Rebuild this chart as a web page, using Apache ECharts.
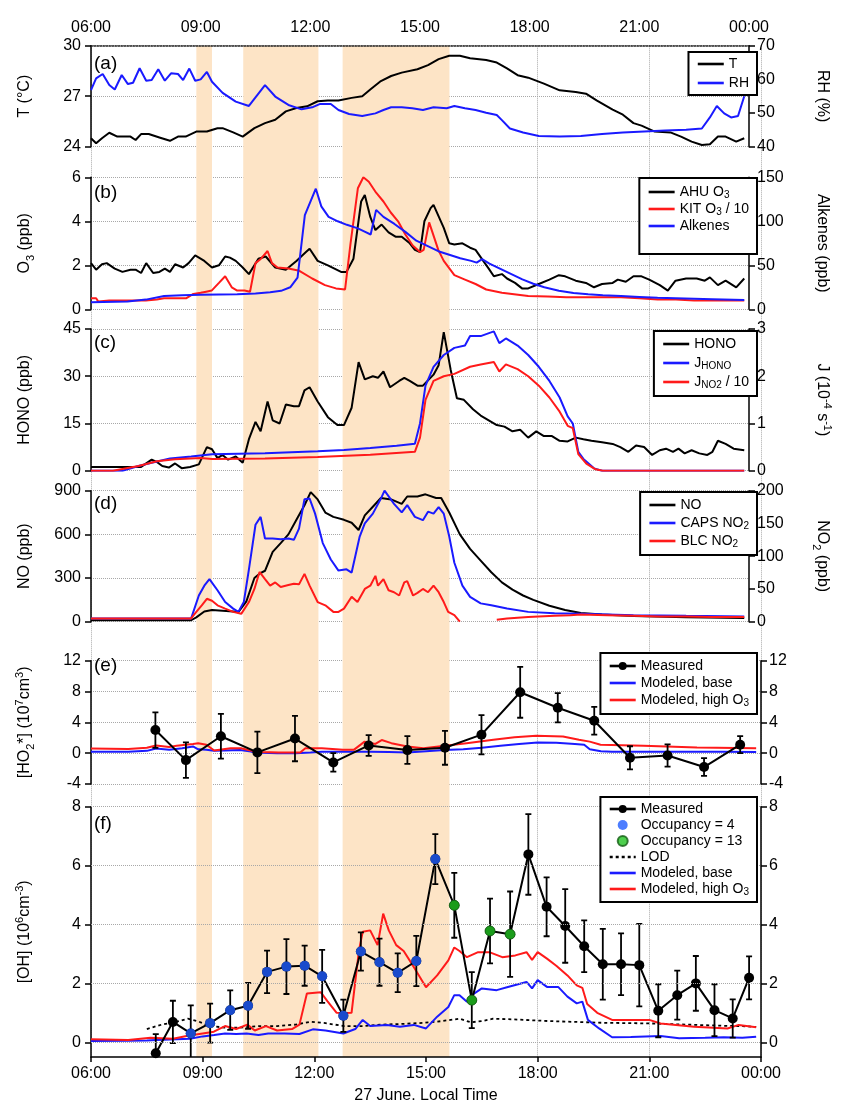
<!DOCTYPE html>
<html>
<head>
<meta charset="utf-8">
<script src="https://cdn.jsdelivr.net/npm/echarts@6/dist/echarts.min.js"></script>
<style>html,body{margin:0;background:#fff}#main{width:841px;height:1105px}</style>
</head>
<body>
<div id="main"></div>
<script>
// time in hours (6 = 06:00, 24 = 00:00 next day)
var shadeBands = [[8.83, 9.25], [10.09, 12.11], [12.76, 15.63]];

// (a)
var tempC = [[6.0,24.5],[6.14,24.2],[6.3,24.5],[6.5,24.83],[6.72,24.6],[6.9,24.6],[7.08,24.6],[7.22,24.4],[7.37,24.75],[7.58,24.75],[7.87,24.55],[8.16,24.35],[8.38,24.6],[8.59,24.6],[8.88,24.9],[9.17,24.9],[9.46,25.1],[9.6,25.1],[9.89,24.85],[10.15,24.6],[10.47,25.1],[10.76,25.4],[11.04,25.6],[11.33,26.1],[11.62,26.3],[11.91,26.4],[12.2,26.7],[12.48,26.75],[12.77,26.75],[13.13,26.9],[13.42,27.0],[13.64,27.4],[13.93,27.9],[14.21,28.2],[14.5,28.4],[14.93,28.6],[15.22,28.85],[15.51,29.2],[15.8,29.4],[16.09,29.4],[16.37,29.25],[16.81,29.15],[17.1,29.0],[17.38,28.65],[17.67,28.25],[17.96,28.1],[18.39,27.75],[18.82,27.35],[19.26,27.25],[19.54,27.15],[19.83,26.75],[20.27,26.2],[20.55,25.9],[20.84,25.4],[21.06,25.25],[21.42,24.9],[21.85,24.85],[22.14,24.6],[22.43,24.3],[22.71,24.1],[22.93,24.15],[23.15,24.6],[23.36,24.6],[23.65,24.3],[23.87,24.5]];
var rhPct = [[6.0,56.8],[6.14,60.3],[6.32,61.6],[6.5,58.3],[6.65,57.0],[6.84,61.3],[7.01,58.6],[7.15,59.0],[7.33,63.3],[7.51,59.6],[7.66,59.8],[7.84,63.0],[8.02,59.6],[8.19,61.8],[8.38,61.6],[8.52,59.8],[8.69,63.2],[8.85,59.6],[9.0,60.0],[9.17,62.2],[9.31,59.3],[9.6,56.0],[9.96,53.4],[10.32,52.1],[10.76,58.3],[11.04,54.9],[11.4,52.4],[11.76,51.1],[12.05,51.7],[12.27,52.7],[12.56,52.7],[12.77,50.9],[13.06,49.7],[13.42,49.1],[13.78,49.9],[14.0,50.9],[14.21,51.7],[14.5,51.7],[14.79,51.4],[15.08,50.9],[15.37,51.7],[15.73,51.4],[15.94,52.1],[16.23,51.4],[16.52,50.9],[16.81,50.1],[17.1,49.4],[17.24,47.9],[17.46,45.4],[17.82,44.2],[18.25,43.2],[18.82,43.0],[19.4,43.2],[19.98,43.8],[20.55,44.2],[21.13,44.5],[21.71,44.8],[22.28,45.0],[22.71,45.4],[22.93,48.7],[23.12,52.1],[23.32,49.9],[23.51,48.7],[23.7,49.1],[23.87,55.0]];

// (b)
var ahuO3 = [[6.0,2.1],[6.14,1.8],[6.3,2.05],[6.43,2.1],[6.65,1.85],[6.86,1.7],[7.08,1.8],[7.22,1.8],[7.37,1.65],[7.51,2.1],[7.7,1.65],[7.87,1.7],[8.02,1.85],[8.16,1.7],[8.3,2.05],[8.52,1.9],[8.67,2.1],[8.85,2.45],[9.1,2.2],[9.31,1.9],[9.5,2.0],[9.67,2.4],[9.8,2.35],[9.96,2.2],[10.15,1.9],[10.32,1.6],[10.58,2.3],[10.78,2.4],[11.04,1.9],[11.33,1.8],[11.62,2.2],[11.88,2.6],[11.98,2.75],[12.2,2.2],[12.48,2.0],[12.84,1.7],[12.99,1.7],[13.18,2.3],[13.39,4.9],[13.49,5.2],[13.64,4.2],[13.78,3.6],[13.95,3.85],[14.14,3.5],[14.33,3.3],[14.5,3.3],[14.72,3.0],[14.86,2.7],[15.0,2.6],[15.12,4.0],[15.29,4.6],[15.37,4.75],[15.65,3.7],[15.8,3.0],[15.94,2.95],[16.16,3.0],[16.37,2.8],[16.52,2.7],[16.73,2.2],[16.88,1.85],[17.02,1.5],[17.24,1.6],[17.38,1.4],[17.6,1.2],[17.79,0.95],[17.96,0.95],[18.25,1.15],[18.54,1.35],[18.8,1.55],[18.97,1.5],[19.26,1.3],[19.54,1.2],[19.76,1.0],[19.98,1.15],[20.27,1.2],[20.41,1.35],[20.63,1.25],[20.84,1.5],[21.06,1.5],[21.27,1.35],[21.56,1.1],[21.78,0.85],[21.99,1.3],[22.28,1.4],[22.57,1.4],[22.79,1.3],[22.93,1.45],[23.15,1.1],[23.36,1.3],[23.65,1.0],[23.87,1.4]];
var kitO3 = [[6.0,0.5],[6.14,0.5],[6.2,0.35],[6.5,0.4],[7.0,0.4],[7.5,0.4],[7.8,0.45],[8.0,0.5],[8.3,0.5],[8.6,0.5],[8.8,0.7],[9.0,0.75],[9.15,0.8],[9.3,0.85],[9.5,1.2],[9.67,1.5],[9.85,1.0],[10.0,0.85],[10.2,0.85],[10.35,0.8],[10.5,2.1],[10.65,2.3],[10.83,2.65],[10.95,2.1],[11.1,1.9],[11.4,1.85],[11.7,1.75],[12.05,1.4],[12.4,1.1],[12.7,0.95],[12.95,0.9],[13.1,3.0],[13.3,5.5],[13.45,6.0],[13.6,5.8],[13.8,5.3],[14.0,4.9],[14.2,4.4],[14.4,4.0],[14.6,3.4],[14.8,2.9],[15.0,2.6],[15.1,2.7],[15.25,3.95],[15.4,3.2],[15.5,2.7],[15.65,2.2],[15.94,1.55],[16.23,1.35],[16.52,1.15],[16.81,0.9],[17.24,0.75],[17.96,0.6],[18.5,0.58],[19.0,0.55],[19.5,0.55],[20.0,0.55],[20.5,0.55],[21.0,0.5],[21.5,0.45],[22.0,0.45],[22.5,0.4],[23.0,0.4],[23.5,0.4],[23.87,0.4]];
var alkenes = [[6.0,8],[7.0,9],[7.5,11],[8.0,15],[8.5,16],[9.0,16.5],[10.0,17],[10.5,18],[10.9,19.5],[11.2,21],[11.45,25],[11.65,36],[11.85,107],[12.15,137],[12.3,117],[12.5,105],[12.75,100],[13.0,96],[13.3,92],[13.5,88],[13.65,85],[13.8,113],[14.0,105],[14.3,97],[14.6,88],[14.9,78],[15.2,72],[15.5,66],[15.8,62],[16.1,58],[16.4,55],[16.55,53],[16.7,57],[16.9,52],[17.2,46],[17.5,40],[17.8,34],[18.1,29],[18.4,25],[18.8,21],[19.2,18.5],[19.6,17],[20.0,16],[20.5,15],[21.0,14],[21.5,13],[22.0,12.5],[22.5,12],[23.0,11.5],[23.87,10.5]];

// (c)
var hono = [[6.0,1.2],[7.37,1.2],[7.66,3.5],[7.8,2.8],[7.95,1.5],[8.13,1.0],[8.3,2.3],[8.48,0.8],[8.71,1.2],[8.95,2.0],[9.17,7.5],[9.31,6.8],[9.46,4.0],[9.6,5.0],[9.75,3.5],[9.96,4.5],[10.15,2.5],[10.32,10],[10.5,15.5],[10.64,12.5],[10.83,22],[10.97,16],[11.16,15],[11.33,21],[11.55,20.5],[11.69,20.5],[11.84,25.5],[11.98,26.5],[12.2,22],[12.48,17],[12.74,14.5],[12.92,14.5],[13.13,20],[13.32,34.5],[13.49,29],[13.71,30],[13.85,29.5],[14.0,31.5],[14.18,26.5],[14.43,28.5],[14.57,29.5],[14.72,28.5],[14.93,27],[15.08,27],[15.37,30.5],[15.51,33.5],[15.65,44],[15.84,32],[16.01,23],[16.2,22.5],[16.45,19.5],[16.66,17.5],[16.88,16],[17.1,14.5],[17.31,14],[17.53,12.5],[17.74,13],[17.96,10.5],[18.18,12.5],[18.39,11],[18.61,11],[18.82,9.5],[19.04,9.3],[19.26,10.5],[19.47,10],[19.69,9.5],[19.98,9],[20.27,8.5],[20.48,7.5],[20.7,6],[20.91,8],[21.13,7.5],[21.35,5],[21.56,6.5],[21.73,7],[21.92,6],[22.07,7],[22.24,5.5],[22.43,6.5],[22.64,5.5],[22.86,5],[23.0,6],[23.15,9.5],[23.36,8.5],[23.58,7],[23.87,6.5]];
var jHono = [[6.0,0],[6.86,0],[7.3,0.1],[7.66,0.17],[8.16,0.26],[8.74,0.3],[9.31,0.35],[10.03,0.36],[10.76,0.37],[11.48,0.39],[12.2,0.41],[12.92,0.44],[13.64,0.48],[14.36,0.53],[14.86,0.57],[15.0,1.0],[15.15,1.8],[15.37,2.2],[15.65,2.45],[15.94,2.6],[16.23,2.65],[16.37,2.85],[16.66,2.85],[17.02,2.95],[17.17,2.7],[17.35,2.8],[17.67,2.65],[17.96,2.45],[18.25,2.2],[18.54,1.9],[18.82,1.55],[19.04,1.15],[19.18,1.0],[19.33,0.4],[19.47,0.25],[19.76,0.05],[19.98,0],[23.87,0]];
var jNo2 = [[6.0,0],[6.6,0],[7.3,0.1],[7.8,0.2],[8.3,0.24],[9.0,0.27],[9.31,0.25],[10.76,0.26],[12.2,0.29],[13.64,0.34],[14.86,0.4],[15.0,0.7],[15.15,1.5],[15.37,1.9],[15.65,2.0],[15.94,2.05],[16.37,2.2],[16.66,2.25],[17.02,2.3],[17.17,2.1],[17.35,2.25],[17.67,2.15],[17.96,2.0],[18.25,1.8],[18.54,1.55],[18.82,1.25],[19.04,0.95],[19.18,0.9],[19.33,0.35],[19.55,0.15],[19.8,0.03],[20.0,0],[23.87,0]];

// (d)
var noPpb = [[6.0,10],[8.74,10],[8.88,30],[9.1,70],[9.31,80],[9.6,75],[9.89,70],[10.03,65],[10.25,140],[10.47,300],[10.61,330],[10.76,350],[10.97,480],[11.19,540],[11.4,600],[11.62,700],[11.84,800],[12.01,890],[12.2,840],[12.41,750],[12.63,720],[12.92,700],[13.13,680],[13.32,630],[13.49,730],[13.71,790],[13.93,850],[14.21,840],[14.5,810],[14.65,860],[14.93,860],[15.15,875],[15.44,850],[15.58,850],[15.8,750],[16.09,600],[16.37,500],[16.66,420],[16.95,340],[17.24,270],[17.53,220],[17.82,180],[18.1,150],[18.54,110],[18.97,80],[19.4,60],[19.98,50],[20.84,40],[22.28,30],[23.87,25]];
var capsNo2 = [[6.0,5],[8.74,5],[8.95,40],[9.1,55],[9.24,65],[9.46,48],[9.67,30],[9.89,20],[10.03,15],[10.18,30],[10.32,80],[10.5,148],[10.64,160],[10.76,127],[10.97,127],[11.19,126],[11.4,127],[11.55,125],[11.69,142],[11.84,187],[11.98,188],[12.13,165],[12.34,120],[12.56,95],[12.77,78],[12.99,80],[13.13,75],[13.35,130],[13.49,150],[13.71,165],[13.93,188],[14.03,200],[14.29,180],[14.5,167],[14.65,178],[14.86,160],[15.08,155],[15.22,168],[15.37,165],[15.51,175],[15.65,165],[15.8,130],[15.94,90],[16.16,55],[16.37,38],[16.66,28],[16.95,25],[17.38,20],[17.96,15],[18.68,13],[19.4,12],[20.84,10],[22.28,9],[23.87,8]];
var blcNo2 = [[6.0,5],[8.74,5],[8.88,15],[9.03,25],[9.17,35],[9.31,32],[9.46,25],[9.67,20],[9.89,15],[10.11,12],[10.32,30],[10.47,50],[10.61,76],[10.76,65],[10.9,55],[11.04,60],[11.19,53],[11.4,56],[11.55,58],[11.69,57],[11.84,73],[11.98,55],[12.2,30],[12.41,25],[12.63,15],[12.77,15],[12.92,20],[13.13,38],[13.29,30],[13.49,50],[13.64,55],[13.78,70],[13.85,55],[14.0,65],[14.14,48],[14.29,45],[14.43,40],[14.57,60],[14.65,62],[14.81,40],[14.93,44],[15.08,50],[15.22,45],[15.37,55],[15.51,45],[15.65,30],[15.77,15],[15.94,10],[16.09,0],[16.6,null],[17.1,3],[17.38,5],[17.96,7],[18.68,9],[19.11,10],[19.4,11],[20.12,10],[20.84,9],[21.56,8],[22.28,8],[23.0,7],[23.87,7]];

// (e) measured: [time, value, error]
var ho2Meas = [[7.73,3.0,2.3],[8.55,-0.9,2.3],[9.49,2.2,2.9],[10.47,0.1,2.7],[11.48,1.9,2.95],[12.51,-1.2,1.2],[13.46,1.0,1.35],[14.5,0.4,1.8],[15.51,0.7,2.2],[16.49,2.4,2.55],[17.53,7.9,3.3],[18.54,5.9,1.9],[19.52,4.2,1.8],[20.48,-0.6,1.5],[21.49,-0.3,1.45],[22.47,-1.8,1.15],[23.44,1.1,1.1]];
var ho2Base = [[6.0,0.2],[7.0,0.2],[7.5,0.3],[7.75,0.6],[8.1,0.45],[8.45,0.65],[8.74,0.87],[8.88,0.5],[9.1,0.45],[9.3,0.3],[9.6,0.35],[10.0,0.4],[10.3,0.2],[10.6,0.05],[11.0,0.0],[11.5,0.0],[11.9,0.1],[12.2,0.2],[12.6,0.2],[13.0,0.2],[13.5,0.2],[14.0,0.15],[14.5,0.1],[15.0,0.25],[15.5,0.4],[16.0,0.5],[16.5,0.7],[17.0,0.95],[17.5,1.2],[18.0,1.4],[18.5,1.35],[19.0,1.2],[19.25,1.1],[19.4,0.5],[19.7,0.25],[20.0,0.2],[21.0,0.2],[22.0,0.2],[23.0,0.2],[23.87,0.15]];
var ho2High = [[6.0,0.6],[7.0,0.55],[7.5,0.7],[7.75,1.0],[8.1,0.8],[8.3,0.95],[8.74,1.2],[8.88,1.3],[9.1,1.1],[9.31,0.35],[9.75,0.65],[10.03,0.65],[10.32,0.3],[10.6,0.15],[11.04,0.1],[11.62,0.1],[11.76,0.65],[12.2,0.65],[12.77,0.43],[13.06,0.43],[13.35,1.5],[13.64,1.2],[13.81,1.7],[14.07,1.3],[14.5,0.87],[14.93,0.65],[15.51,0.95],[16.09,1.3],[16.81,1.73],[17.38,2.08],[17.96,2.25],[18.68,2.16],[19.11,1.73],[19.4,1.5],[19.69,1.1],[20.84,0.95],[22.28,0.74],[23.87,0.65]];

// (f) measured: [time, value, error, occupancy (0 = none)]
var ohMeas = [[7.74,-0.37,0.65,0],[8.2,0.69,0.72,0],[8.68,0.3,0.95,4],[9.2,0.65,0.66,4],[9.74,1.09,0.67,4],[10.22,1.24,0.78,4],[10.73,2.39,0.72,4],[11.25,2.57,0.93,4],[11.74,2.6,0.68,4],[12.21,2.24,0.9,4],[12.78,0.9,0.55,4],[13.25,3.08,0.65,4],[13.75,2.72,0.8,4],[14.24,2.36,0.66,4],[14.74,2.76,0.85,4],[15.25,6.22,0.85,4],[15.76,4.65,1.1,13],[16.23,1.43,0.95,13],[16.72,3.78,1.1,13],[17.26,3.67,1.45,13],[17.75,6.38,1.37,0],[18.24,4.6,1.0,0],[18.74,3.95,1.25,0],[19.25,3.26,0.88,0],[19.75,2.65,1.2,0],[20.24,2.65,1.05,0],[20.73,2.62,1.4,0],[21.24,1.07,0.9,0],[21.75,1.6,0.83,0],[22.25,2.0,0.93,0],[22.75,1.09,0.88,0],[23.24,0.81,0.65,0],[23.68,2.19,0.73,0]];
var ohLod = [[7.5,0.45],[7.9,0.6],[8.3,0.7],[8.6,0.8],[8.9,0.7],[9.2,0.55],[9.6,0.5],[10.0,0.5],[10.5,0.55],[11.0,0.55],[11.5,0.6],[11.9,0.7],[12.3,0.65],[12.8,0.55],[13.3,0.55],[13.8,0.6],[14.3,0.62],[14.8,0.65],[15.3,0.7],[15.9,0.8],[16.2,0.68],[16.5,0.72],[16.8,0.8],[17.3,0.78],[17.8,0.75],[18.3,0.72],[18.8,0.7],[19.3,0.68],[19.8,0.66],[20.5,0.65],[21.0,0.64],[21.5,0.62],[22.0,0.6],[22.5,0.58],[23.0,0.56],[23.5,0.55],[23.87,0.52]];
var ohBase = [[6.0,0.04],[7.0,0.05],[7.5,0.06],[7.76,0.08],[8.3,0.1],[8.66,0.12],[9.0,0.2],[9.31,0.25],[9.6,0.3],[9.9,0.28],[10.18,0.3],[10.5,0.25],[10.76,0.3],[11.2,0.3],[11.6,0.28],[11.96,0.44],[12.3,0.4],[12.78,0.3],[13.1,0.45],[13.3,0.76],[13.5,0.55],[13.95,0.59],[14.3,0.53],[14.67,0.59],[15.0,0.47],[15.3,0.87],[15.6,1.2],[15.76,1.6],[15.9,1.6],[16.1,1.38],[16.23,1.6],[16.5,1.83],[16.9,1.77],[17.2,1.88],[17.7,2.05],[17.85,1.83],[18.0,2.11],[18.25,1.88],[18.55,1.88],[18.8,1.55],[19.05,1.32],[19.2,1.38],[19.35,0.76],[19.65,0.47],[20.0,0.17],[20.5,0.18],[21.3,0.21],[21.8,0.14],[22.5,0.15],[23.0,0.17],[23.5,0.15],[23.87,0.19]];
var ohHigh = [[6.0,0.1],[7.0,0.08],[7.6,0.15],[8.2,0.12],[8.6,0.22],[9.0,0.3],[9.3,0.36],[9.6,0.55],[9.9,0.45],[10.2,0.6],[10.4,0.4],[10.7,0.55],[11.0,0.4],[11.4,0.45],[11.6,0.6],[11.8,1.66],[12.17,1.7],[12.35,1.4],[12.6,1.0],[12.8,0.99],[13.0,1.0],[13.2,3.13],[13.3,3.75],[13.5,3.8],[13.7,3.3],[13.85,4.37],[14.0,3.8],[14.2,3.3],[14.4,3.1],[14.7,2.5],[15.0,1.87],[15.3,2.27],[15.6,2.78],[15.76,3.22],[15.9,3.1],[16.1,2.89],[16.4,3.06],[16.7,3.06],[17.05,2.89],[17.4,2.95],[17.7,3.06],[17.85,2.8],[18.0,3.06],[18.25,2.84],[18.5,2.6],[18.8,2.27],[19.05,1.93],[19.2,1.85],[19.33,1.3],[19.6,1.0],[20.0,0.76],[20.5,0.76],[21.0,0.76],[21.3,0.64],[22.2,0.53],[23.1,0.47],[23.4,0.59],[23.87,0.51]];
var ohTicks = [0, 2, 4, 6, 8];

var FONT = '"Liberation Sans", Arial, sans-serif';
var BLUE = '#1a1aff', RED = '#ff1a1a', BLACK = '#000';
var RICH = {
  sup: {fontFamily: FONT, fontSize: 11, lineHeight: 11, verticalAlign: 'top', color: '#000'},
  sub: {fontFamily: FONT, fontSize: 11, lineHeight: 11, verticalAlign: 'bottom', color: '#000'}
};
var legendText = {
  'AHU O3': 'AHU O{s|3}', 'KIT O3 / 10': 'KIT O{s|3} / 10', 'J_HONO': 'J{s|HONO}',
  'J_NO2 / 10': 'J{s|NO2} / 10', 'CAPS NO2': 'CAPS NO{s|2}', 'BLC NO2': 'BLC NO{s|2}',
  'Modeled, high O3': 'Modeled, high O{s|3}'
};
// legend entries that show a marker as well as / instead of a line
var markerItems = ['Measured', 'Occupancy = 4', 'Occupancy = 13'];

// plot areas
var panels = [
  {top: 45.7, height: 1011.3},  // background: shading + vertical grid
  {top: 45.7, height: 101},     // a
  {top: 177.3, height: 132},    // b
  {top: 329, height: 141.7},    // c
  {top: 490.7, height: 131},    // d
  {top: 660.7, height: 123.3},  // e
  {top: 806.7, height: 250.3}   // f
];

function hourLabel(v) { var h = v % 24; return (h < 10 ? '0' : '') + h + ':00'; }

function xAx(i) {
  var ax = {type: 'value', gridIndex: i, min: 6, max: 24, interval: 3, z: 1,
    axisLine: {show: false}, axisTick: {show: false}, axisLabel: {show: false}, splitLine: {show: false}};
  if (i === 0) {
    ax.splitLine = {show: true, lineStyle: {type: 'dotted', color: '#a8a8a8', width: 1}};
  } else if (i === 1) {
    ax.position = 'top';
    ax.axisLine = {show: true, onZero: false, lineStyle: {type: 'dotted', color: '#222', width: 1.5}};
    ax.axisLabel = {show: true, formatter: hourLabel, fontFamily: FONT, fontSize: 16, color: '#000', margin: 10};
  } else if (i === 6) {
    ax.position = 'bottom';
    ax.axisLine = {show: true, onZero: false, lineStyle: {color: '#000', width: 1.5}};
    ax.axisTick = {show: true, length: 5, lineStyle: {color: '#000', width: 1.5}};
    ax.axisLabel = {show: true, formatter: hourLabel, fontFamily: FONT, fontSize: 16, color: '#000', margin: 9};
    ax.name = '27 June. Local Time';
    ax.nameLocation = 'middle';
    ax.nameGap = 31;
    ax.nameTextStyle = {fontFamily: FONT, fontSize: 16, color: '#000'};
  }
  return ax;
}

function yAx(grid, pos, min, max, interval, name, extra) {
  var left = pos === 'left';
  var ax = {type: 'value', gridIndex: grid, position: pos, min: min, max: max, interval: interval, z: 1,
    name: name, nameLocation: 'middle', nameRotate: left ? 90 : -90, nameGap: left ? 55 : 62,
    nameTextStyle: {fontFamily: FONT, fontSize: 16, color: '#000', lineHeight: 22, rich: RICH},
    axisLine: {show: true, onZero: false, lineStyle: {color: '#000', width: 1.5}},
    axisTick: {show: true, length: 6, lineStyle: {color: '#000', width: 1.5}},
    axisLabel: {fontFamily: FONT, fontSize: 16, color: '#000', margin: left ? 10 : 8},
    splitLine: {show: left, lineStyle: {type: 'dotted', color: '#a8a8a8', width: 1}}};
  return Object.assign(ax, extra || {});
}

function line(name, xi, yi, data, color, extra) {
  return Object.assign({type: 'line', name: name, xAxisIndex: xi, yAxisIndex: yi, data: data,
    symbol: 'none', silent: true, z: 2,
    lineStyle: {color: color, width: 2}, itemStyle: {color: color}}, extra || {});
}

function errorBars(xi, yi, pts) {
  return {type: 'custom', xAxisIndex: xi, yAxisIndex: yi, silent: true, clip: true, z: 3,
    data: pts.map(function (p) { return [p[0], p[1] - p[2], p[1] + p[2]]; }),
    encode: {x: 0, y: [1, 2]},
    renderItem: function (params, api) {
      var cs = params.coordSys;
      var lo = api.coord([api.value(0), api.value(1)]);
      var hi = api.coord([api.value(0), api.value(2)]);
      var bottom = cs.y + cs.height, top = cs.y;
      var st = {stroke: '#000', lineWidth: 1.8};
      var y1 = Math.min(lo[1], bottom), y2 = Math.max(hi[1], top);
      var kids = [{type: 'line', shape: {x1: lo[0], y1: y1, x2: hi[0], y2: y2}, style: st}];
      if (lo[1] <= bottom) kids.push({type: 'line', shape: {x1: lo[0] - 3, y1: lo[1], x2: lo[0] + 3, y2: lo[1]}, style: st});
      if (hi[1] >= top) kids.push({type: 'line', shape: {x1: hi[0] - 3, y1: hi[1], x2: hi[0] + 3, y2: hi[1]}, style: st});
      return {type: 'group', children: kids};
    }};
}

function legend(names, top, gap, padding) {
  return {
    data: names.map(function (n) {
      return markerItems.indexOf(n) >= 0 ? {name: n}
        : {name: n, itemStyle: {color: 'rgba(0,0,0,0)', borderWidth: 0, opacity: 0}};
    }),
    orient: 'vertical', right: 84, top: top, itemWidth: 26, itemHeight: 10, itemGap: gap,
    padding: padding || [4, 8, 4, 8], borderColor: '#000', borderWidth: 2, backgroundColor: '#fff',
    selectedMode: false, z: 10,
    lineStyle: {width: 2.6},
    formatter: function (n) { return legendText[n] || n; },
    textStyle: {fontFamily: FONT, fontSize: 14, color: '#000', lineHeight: 16,
      rich: {s: {fontFamily: FONT, fontSize: 10, lineHeight: 8, verticalAlign: 'bottom', color: '#000'}}}};
}

var labelTops = [54, 183, 333, 494, 656, 814];
var option = {
  animation: false,
  backgroundColor: '#fff',
  title: ['(a)', '(b)', '(c)', '(d)', '(e)', '(f)'].map(function (t, i) {
    return {text: t, left: 94, top: labelTops[i], padding: 0,
      textStyle: {fontFamily: FONT, fontSize: 19, fontWeight: 'normal', color: '#000'}};
  }),
  grid: panels.map(function (p) { return {left: 91, right: 80, top: p.top, height: p.height}; }),
  xAxis: [0, 1, 2, 3, 4, 5, 6].map(xAx),
  yAxis: [
    {type: 'value', gridIndex: 0, min: 0, max: 1, show: false},
    yAx(1, 'left', 24, 30, 3, 'T (°C)'),
    yAx(1, 'right', 40, 70, 10, 'RH (%)'),
    yAx(2, 'left', 0, 6, 2, 'O{sub|3} (ppb)'),
    yAx(2, 'right', 0, 150, 50, 'Alkenes (ppb)'),
    yAx(3, 'left', 0, 45, 15, 'HONO (ppb)'),
    yAx(3, 'right', 0, 3, 1, 'J (10{sup|-4} s{sup|-1})'),
    yAx(4, 'left', 0, 900, 300, 'NO (ppb)'),
    yAx(4, 'right', 0, 200, 50, 'NO{sub|2} (ppb)'),
    yAx(5, 'left', -4, 12, 4, '[HO{sub|2}*] (10{sup|7}cm{sup|3})'),
    yAx(5, 'right', -4, 12, 4, ''),
    yAx(6, 'left', -0.5, 8, null, '[OH] (10{sup|6}cm{sup|-3})', {
      interval: undefined, splitLine: {show: false},
      axisLabel: {fontFamily: FONT, fontSize: 16, color: '#000', margin: 10, customValues: ohTicks},
      axisTick: {show: true, length: 6, customValues: ohTicks, lineStyle: {color: '#000', width: 1.5}}}),
    yAx(6, 'right', -0.5, 8, null, '', {
      interval: undefined,
      axisLabel: {fontFamily: FONT, fontSize: 16, color: '#000', margin: 8, customValues: ohTicks},
      axisTick: {show: true, length: 6, customValues: ohTicks, lineStyle: {color: '#000', width: 1.5}}})
  ],
  legend: [
    legend(['T', 'RH'], 52, 3),
    legend(['AHU O3', 'KIT O3 / 10', 'Alkenes'], 178, 1, [6, 8, 20, 8]),
    legend(['HONO', 'J_HONO', 'J_NO2 / 10'], 331, 3, [5, 8, 6, 8]),
    legend(['NO', 'CAPS NO2', 'BLC NO2'], 492, 2, [5, 8, 6, 8]),
    legend(['Measured', 'Modeled, base', 'Modeled, high O3'], 653, 1, [5, 8, 6, 8]),
    legend(['Measured', 'Occupancy = 4', 'Occupancy = 13', 'LOD', 'Modeled, base', 'Modeled, high O3'], 797, 0, [4, 8, 5, 8])
  ],
  series: [
    {type: 'line', xAxisIndex: 0, yAxisIndex: 0, data: [], z: 0, silent: true,
      markArea: {silent: true, itemStyle: {color: '#fde4c6'},
        data: shadeBands.map(function (b) { return [{xAxis: b[0]}, {xAxis: b[1]}]; })}},
    line('T', 1, 1, tempC, BLACK),
    line('RH', 1, 2, rhPct, BLUE),
    line('AHU O3', 2, 3, ahuO3, BLACK),
    line('KIT O3 / 10', 2, 3, kitO3, RED),
    line('Alkenes', 2, 4, alkenes, BLUE),
    line('HONO', 3, 5, hono, BLACK),
    line('J_HONO', 3, 6, jHono, BLUE),
    line('J_NO2 / 10', 3, 6, jNo2, RED),
    line('NO', 4, 7, noPpb, BLACK),
    line('CAPS NO2', 4, 8, capsNo2, BLUE),
    line('BLC NO2', 4, 8, blcNo2, RED),
    line('Modeled, base', 5, 9, ho2Base, BLUE),
    line('Modeled, high O3', 5, 9, ho2High, RED),
    errorBars(5, 9, ho2Meas),
    line('Measured', 5, 9, ho2Meas.map(function (p) { return [p[0], p[1]]; }), BLACK,
      {symbol: 'circle', symbolSize: 10, z: 4}),
    {type: 'line', xAxisIndex: 6, yAxisIndex: 11, data: [], z: 1, silent: true,
      markLine: {silent: true, symbol: 'none', label: {show: false},
        lineStyle: {type: 'dotted', color: '#a8a8a8', width: 1},
        data: ohTicks.map(function (v) { return {yAxis: v}; })}},
    line('LOD', 6, 11, ohLod, BLACK, {lineStyle: {color: BLACK, width: 1.8, type: [3, 3]}}),
    line('Modeled, base', 6, 11, ohBase, BLUE),
    line('Modeled, high O3', 6, 11, ohHigh, RED),
    errorBars(6, 11, ohMeas),
    line('Measured', 6, 11, ohMeas.map(function (p) { return [p[0], p[1]]; }), BLACK,
      {symbol: 'circle', symbolSize: 10, z: 4}),
    {type: 'scatter', name: 'Occupancy = 4', xAxisIndex: 6, yAxisIndex: 11, silent: true, z: 5,
      symbolSize: 10, itemStyle: {color: '#1f5cff'},
      data: ohMeas.filter(function (p) { return p[3] === 4; }).map(function (p) { return [p[0], p[1]]; })},
    {type: 'scatter', name: 'Occupancy = 13', xAxisIndex: 6, yAxisIndex: 11, silent: true, z: 5,
      symbolSize: 10, itemStyle: {color: '#22c322', borderColor: '#145c14', borderWidth: 1},
      data: ohMeas.filter(function (p) { return p[3] === 13; }).map(function (p) { return [p[0], p[1]]; })}
  ]
};

var myChart = echarts.init(document.getElementById('main'));
myChart.setOption(option);
</script>
</body>
</html>
